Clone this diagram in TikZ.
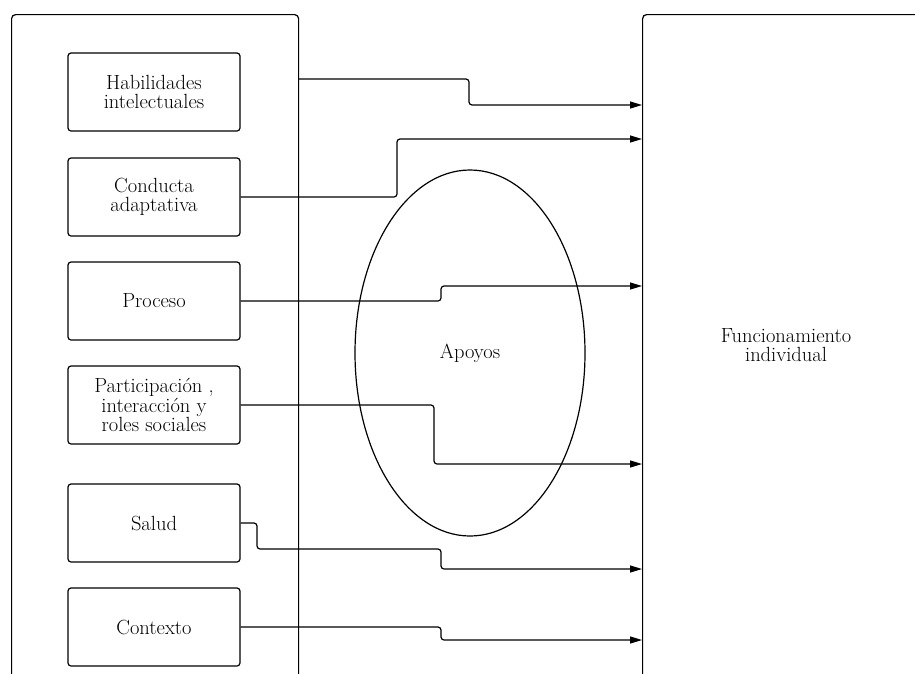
\documentclass[tikz,border=0pt]{standalone}
\usepackage{fontspec}
\usetikzlibrary{arrows.meta,shapes.geometric}
\begin{document}
\begin{tikzpicture}[x=1pt,y=-1pt,
  line width=1.2pt,
  txt/.style={align=center, font=\fontsize{20.5}{19.5}\selectfont},
  item/.style={txt, draw, rounded corners=3pt, minimum width=172pt, minimum height=78pt, inner sep=0pt},
  frame/.style={draw, rounded corners=4pt, anchor=north west, inner sep=0pt, minimum height=720pt},
  conn/.style={rounded corners=3pt, -{Triangle[length=12pt,width=7pt]}}]
\useasboundingbox (0,0) rectangle (915,673);
\clip (0,0) rectangle (915,673);
\node[frame, minimum width=287pt] (left) at (11,14) {};
\node[frame, minimum width=320pt] (right) at (642,14) {};
\node[item] (hab) at (154,92) {Habilidades\\intelectuales};
\node[item] (con) at (154,197) {Conducta\\adaptativa};
\node[item] (pro) at (154,301) {Proceso};
\node[item] (par) at (154,405) {Participación ,\\interacción y\\roles sociales};
\node[item] (sal) at (154,523) {Salud};
\node[item] (ctx) at (154,627) {Contexto};
\node[txt, draw, ellipse, minimum width=230pt, minimum height=366pt, inner sep=0pt] (apo) at (470,353) {Apoyos};
\node[txt] (fun) at (786,345) {Funcionamiento\\individual};
\coordinate (s1) at (298,79);
\coordinate (t1) at (642,105);
\coordinate (t2) at (642,139);
\coordinate (t3) at (642,286);
\coordinate (t4) at (642,464);
\coordinate (t5) at (642,569);
\coordinate (t6) at (642,640);
\draw[conn] (s1) -- (469,79) -- (469,105) -- (t1);
\draw[conn] (con.east) -- (397,197) -- (397,139) -- (t2);
\draw[conn] (pro.east) -- (441,301) -- (441,286) -- (t3);
\draw[conn] (par.east) -- (434,405) -- (434,464) -- (t4);
\draw[conn] (sal.east) -- (257,523) -- (257,549) -- (441,549) -- (441,569) -- (t5);
\draw[conn] (ctx.east) -- (441,627) -- (441,640) -- (t6);
\end{tikzpicture}
\end{document}
